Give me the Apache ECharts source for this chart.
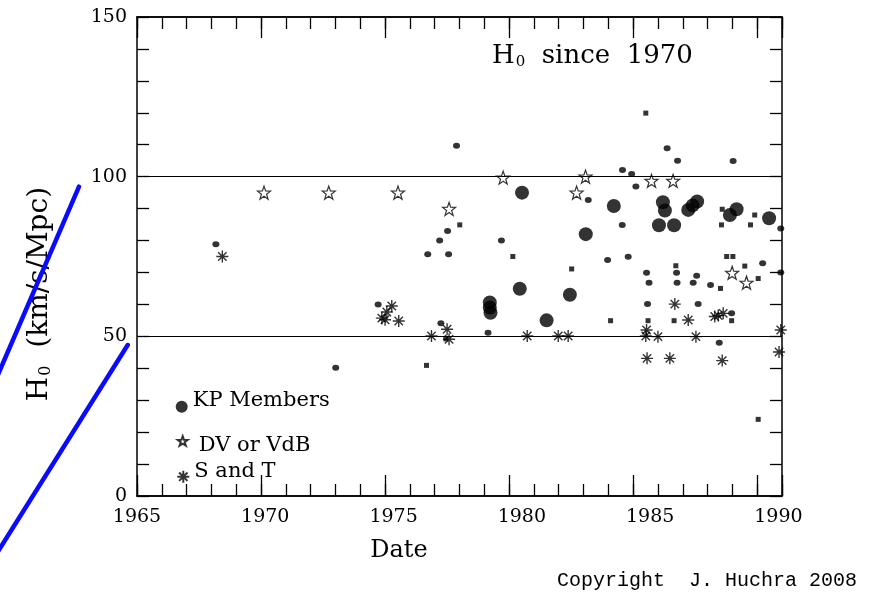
<!DOCTYPE html>
<html>
<head>
<meta charset="utf-8">
<script src="https://cdn.jsdelivr.net/npm/echarts@6/dist/echarts.min.js"></script>
<style>
  html, body { margin: 0; padding: 0; background: #fff; }
  #chart { width: 876px; height: 594px; }
</style>
</head>
<body>
<div id="chart"></div>
<script>
// data: [year, H0]
const kpMembers = [
  [1980.52, 95.0], [1980.43, 64.9], [1979.22, 60.6], [1979.22, 59.0], [1979.25, 57.4],
  [1981.51, 55.0], [1982.45, 63.0], [1983.09, 82.0], [1984.22, 90.8], [1986.20, 92.0],
  [1986.28, 89.4], [1986.04, 84.8], [1986.65, 84.8], [1987.22, 89.6], [1987.40, 91.0],
  [1987.58, 92.2], [1988.90, 88.0], [1989.17, 89.8], [1990.48, 87.0]
];
const dvVdB = [
  [1970.12, 95.0], [1972.73, 95.0], [1975.52, 95.0], [1977.58, 89.9], [1979.76, 99.7],
  [1982.72, 95.0], [1983.08, 100.0], [1985.74, 98.7], [1986.61, 98.7], [1988.99, 69.9],
  [1989.57, 66.8]
];
const sAndT = [
  [1968.44, 75.0], [1975.27, 59.5], [1975.07, 57.6], [1974.87, 55.7], [1975.55, 54.8],
  [1975.00, 55.2], [1976.87, 50.1], [1977.50, 52.2], [1977.58, 49.1], [1980.73, 50.1],
  [1981.98, 50.1], [1982.38, 50.1], [1985.54, 52.0], [1985.51, 50.1], [1986.00, 49.9],
  [1985.56, 43.1], [1986.48, 43.1], [1986.68, 60.1], [1987.22, 55.1], [1987.53, 49.9],
  [1988.29, 56.2], [1988.43, 56.5], [1988.63, 57.2], [1988.59, 42.4], [1990.95, 52.0],
  [1990.88, 45.1]
];
const otherDots = [
  [1968.18, 78.8], [1977.88, 109.7], [1977.52, 83.0], [1977.20, 80.0], [1976.72, 75.7],
  [1977.56, 75.7], [1979.69, 80.0], [1983.19, 92.7], [1979.15, 51.1], [1977.25, 54.1],
  [1974.72, 60.0], [1973.01, 40.2], [1986.37, 108.9], [1986.79, 105.0], [1984.57, 102.1],
  [1984.94, 100.8], [1985.11, 96.9], [1984.56, 84.9], [1983.97, 73.9], [1984.80, 74.9],
  [1985.54, 69.9], [1985.64, 66.8], [1985.58, 60.1], [1986.75, 69.9], [1986.77, 66.8],
  [1987.56, 69.0], [1987.42, 66.8], [1987.62, 60.1], [1989.03, 104.9], [1990.22, 72.9],
  [1988.12, 66.1], [1988.97, 57.2], [1988.47, 48.0], [1990.95, 70.0], [1990.95, 83.8]
];
const otherSquares = [
  [1978.01, 84.9], [1980.15, 75.0], [1982.52, 71.1], [1976.67, 40.9], [1985.51, 119.9],
  [1984.09, 54.9], [1985.60, 54.9], [1986.65, 54.9], [1986.72, 72.1], [1988.59, 89.8],
  [1988.56, 84.9], [1989.73, 84.9], [1989.90, 88.0], [1988.77, 75.0], [1989.02, 75.0],
  [1989.50, 72.0], [1990.04, 68.1], [1988.52, 65.0], [1988.97, 54.9], [1990.04, 24.0],
  [1977.45, 49.2]
];
const refLines = [50, 100];
const xLabelYears = [1965, 1970, 1975, 1980, 1985, 1990];
const yLabelValues = [0, 50, 100, 150];

const STAR = 'path://M50 0L62 34L98 35L69 57L80 91L50 71L20 91L31 57L2 35L38 34Z';
const ASTER = 'path://M50 0L50 100M0 50L100 50M15 15L85 85M15 85L85 15';
const SERIF = '"DejaVu Serif", "Liberation Serif", serif';
const black = '#000';
const lineStyle = { color: black, width: 1.5 };
const tickStyle = { color: black, width: 1.3 };

const myChart = echarts.init(document.getElementById('chart'), null, { renderer: 'canvas' });

// axis that only carries ticks
const tickAxis = (pos, interval, len) => ({
  type: 'value', position: pos, min: 1965, max: 1991, interval: interval,
  axisLine: { show: true, onZero: false, lineStyle: lineStyle },
  axisTick: { show: true, inside: true, length: len, lineStyle: tickStyle },
  axisLabel: { show: false },
  splitLine: { show: false }
});

const yTickAxis = (pos) => ({
  type: 'value', position: pos, min: 0, max: 150, interval: 10,
  axisLine: { show: true, onZero: false, lineStyle: lineStyle },
  axisTick: { show: true, inside: true, length: 12, lineStyle: tickStyle },
  axisLabel: { show: false },
  splitLine: { show: false }
});

const dataAxis = tickAxis('bottom', 1, 12);
dataAxis.name = 'Date';
dataAxis.nameLocation = 'middle';
dataAxis.nameGap = 43;
dataAxis.nameTextStyle = { color: black, fontFamily: SERIF, fontSize: 24, padding: [0, 121, 0, 0] };

const leftAxis = yTickAxis('left');
leftAxis.axisLabel = {
  show: true, color: black, fontFamily: SERIF, fontSize: 19, margin: 10,
  formatter: v => (yLabelValues.includes(v) ? String(v) : '')
};
leftAxis.name = '{h|H}{s|0}{h|  (km/s/Mpc)}';
leftAxis.nameLocation = 'middle';
leftAxis.nameRotate = 90;
leftAxis.nameGap = 83;
leftAxis.nameTextStyle = {
  padding: [0, 75, 0, 0],
  rich: {
    h: { fontFamily: SERIF, fontSize: 28, color: black },
    s: { fontFamily: SERIF, fontSize: 16, color: black, padding: [12, 0, 0, 1] }
  }
};

// legend text is nudged against its icon, as in the original
const legendItem = (name, icon, left, top, size, pad) => ({
  orient: 'vertical', padding: 0, selectedMode: false,
  data: [{ name: name, icon: icon }],
  left: left, top: top, itemWidth: size, itemHeight: size,
  formatter: n => '{a|' + n + '}',
  textStyle: {
    rich: { a: { color: black, fontFamily: SERIF, fontSize: 21, padding: pad } }
  }
});

const option = {
  animation: false,
  backgroundColor: '#fff',
  title: {
    text: '{h|H}{s|0}{h|  since  1970}',
    left: 487, top: 38,
    textStyle: {
      fontWeight: 'normal',
      rich: {
        h: { fontFamily: SERIF, fontSize: 26, fontWeight: 'normal', color: black },
        s: { fontFamily: SERIF, fontSize: 15, fontWeight: 'normal', color: black, padding: [12, 0, 0, 1] }
      }
    }
  },
  legend: [
    legendItem('KP Members', 'circle', 175.7, 390.2, 12, [0, 0, 12, 0]),
    legendItem('DV or VdB', STAR, 176.7, 435.2, 10, [10, 0, 0, 6]),
    legendItem('S and T', ASTER, 176.3, 460.7, 12, [0, 0, 11, 0])
  ],
  grid: { left: 137, top: 17, right: 94, bottom: 98, show: false },
  xAxis: [
    dataAxis,
    tickAxis('bottom', 5, 21),
    {
      // tick labels sit on their own, slightly wider spacing
      type: 'value', position: 'bottom', min: 1965, max: 1990.14, interval: 5,
      axisLine: { show: false, onZero: false },
      axisTick: { show: false },
      splitLine: { show: false },
      axisLabel: {
        color: black, fontFamily: SERIF, fontSize: 19, margin: 12,
        formatter: v => (xLabelYears.includes(v) ? String(v) : '')
      }
    },
    tickAxis('top', 1, 12),
    tickAxis('top', 5, 21)
  ],
  yAxis: [leftAxis, yTickAxis('right')],
  graphic: [
    {
      type: 'line', z: 100, silent: true,
      shape: { x1: 79, y1: 186.7, x2: -5, y2: 381.6 },
      style: { stroke: '#0a0aff', lineWidth: 4.5, lineCap: 'round' }
    },
    {
      type: 'line', z: 100, silent: true,
      shape: { x1: 127.7, y1: 345, x2: -5, y2: 556.3 },
      style: { stroke: '#0a0aff', lineWidth: 4.5, lineCap: 'round' }
    },
    {
      type: 'text', x: 557, y: 581, silent: true,
      style: {
        text: 'Copyright  J. Huchra 2008', fill: black,
        font: '20px "Liberation Mono", "DejaVu Sans Mono", monospace',
        textVerticalAlign: 'middle'
      }
    }
  ],
  series: [
    {
      name: 'other dots', type: 'scatter', data: otherDots,
      symbol: 'circle', symbolSize: [7, 6],
      itemStyle: { color: black },
      markLine: {
        silent: true, symbol: 'none', label: { show: false },
        lineStyle: { color: black, width: 1.2, type: 'solid' },
        data: refLines.map(v => ({ yAxis: v }))
      }
    },
    {
      name: 'other squares', type: 'scatter', data: otherSquares,
      symbol: 'rect', symbolSize: 5,
      itemStyle: { color: black }
    },
    {
      name: 'DV or VdB', type: 'scatter', data: dvVdB,
      symbol: STAR, symbolSize: 13,
      itemStyle: { color: '#fff', borderColor: black, borderWidth: 1.2 }
    },
    {
      name: 'S and T', type: 'scatter', data: sAndT,
      symbol: ASTER, symbolSize: 12,
      itemStyle: { color: 'rgba(0,0,0,0)', borderColor: black, borderWidth: 1.4 }
    },
    {
      name: 'KP Members', type: 'scatter', data: kpMembers,
      symbol: 'circle', symbolSize: 14,
      itemStyle: { color: black }
    }
  ]
};

myChart.setOption(option);
</script>
</body>
</html>
